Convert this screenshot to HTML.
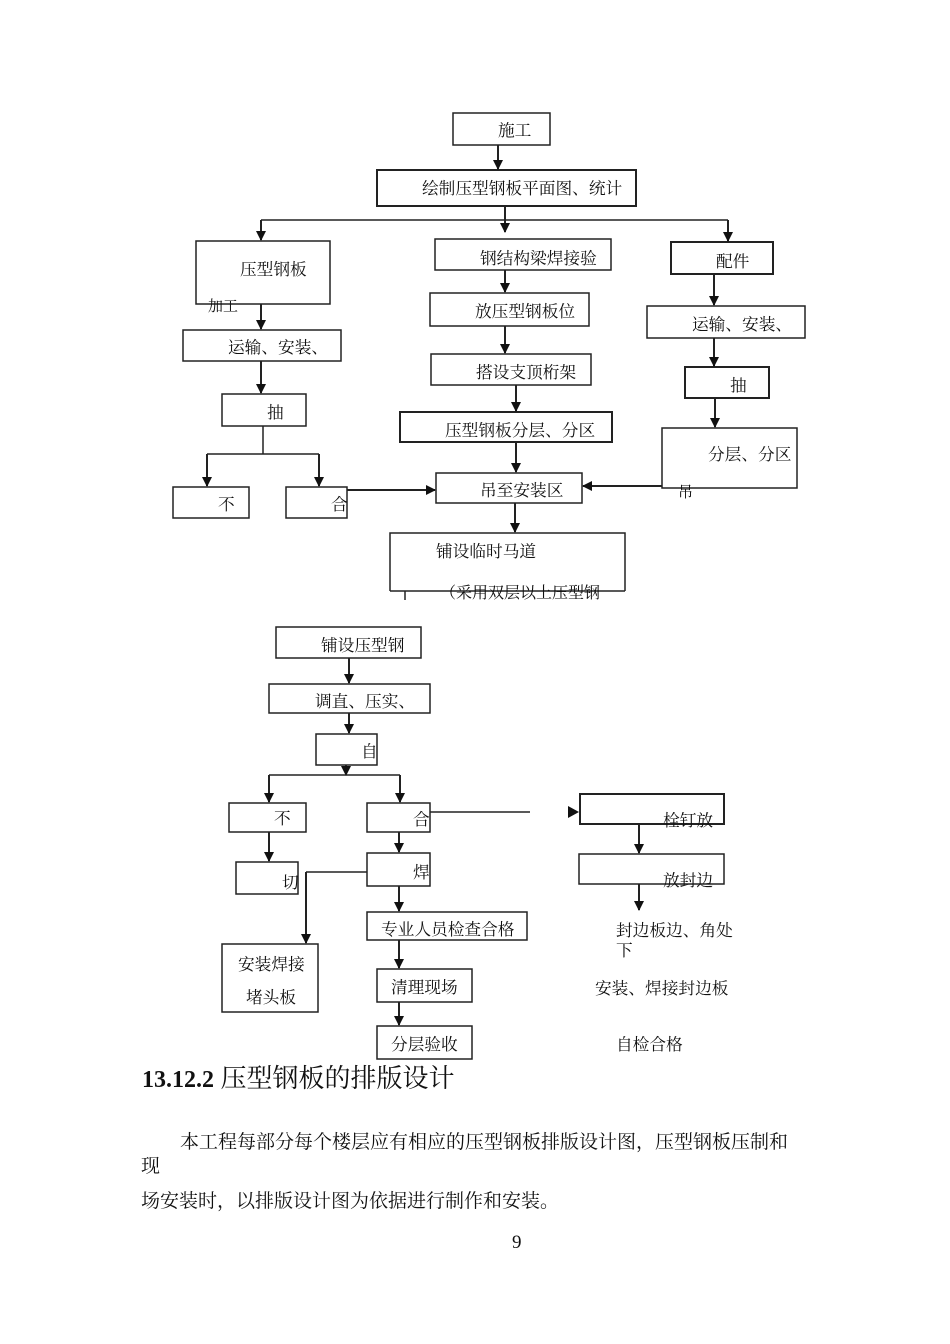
<!DOCTYPE html>
<html><head><meta charset="utf-8"><style>
html,body{margin:0;padding:0;background:#fff;}
svg{display:block;}
text{font-family:"Liberation Serif","Noto Serif CJK SC","Noto Sans CJK SC",serif;fill:#111;}
</style></head><body>
<svg width="950" height="1344" viewBox="0 0 950 1344" xmlns="http://www.w3.org/2000/svg">
<defs><marker id="a" markerWidth="10" markerHeight="10" refX="9" refY="5" orient="auto" markerUnits="userSpaceOnUse"><path d="M0,0 L10,5 L0,10 z" fill="#111"/></marker></defs>
<g fill="none" stroke="#222" stroke-width="1.5">
<rect x="453" y="113" width="97" height="32"/>
<rect x="377" y="170" width="259" height="36" stroke-width="2"/>
<rect x="196" y="241" width="134" height="63"/>
<rect x="435" y="239" width="176" height="31"/>
<rect x="671" y="242" width="102" height="32" stroke-width="2"/>
<rect x="430" y="293" width="159" height="33"/>
<rect x="183" y="330" width="158" height="31"/>
<rect x="647" y="306" width="158" height="32"/>
<rect x="431" y="354" width="160" height="31"/>
<rect x="685" y="367" width="84" height="31" stroke-width="2"/>
<rect x="222" y="394" width="84" height="32"/>
<rect x="400" y="412" width="212" height="30" stroke-width="2"/>
<rect x="662" y="428" width="135" height="60"/>
<rect x="173" y="487" width="76" height="31"/>
<rect x="286" y="487" width="61" height="31"/>
<rect x="436" y="473" width="146" height="30"/>
<path d="M390,591 V533 H625 V591 M390,591 H625"/>
<path d="M405,591 V600"/>
<rect x="276" y="627" width="145" height="31"/>
<rect x="269" y="684" width="161" height="29"/>
<rect x="316" y="734" width="61" height="31"/>
<rect x="229" y="803" width="77" height="29"/>
<rect x="367" y="803" width="63" height="29"/>
<rect x="580" y="794" width="144" height="30" stroke-width="2"/>
<rect x="236" y="862" width="62" height="32"/>
<rect x="367" y="853" width="63" height="33"/>
<rect x="222" y="944" width="96" height="68"/>
<rect x="367" y="912" width="160" height="28"/>
<rect x="377" y="969" width="95" height="33"/>
<rect x="377" y="1026" width="95" height="33"/>
<rect x="579" y="854" width="145" height="30"/>
</g>
<g fill="none" stroke="#222" stroke-width="2" marker-end="url(#a)">
<path d="M498,145 V169"/>
<path d="M505,206 V232"/>
<path d="M261,220 V240"/>
<path d="M728,220 V241"/>
<path d="M505,270 V292"/>
<path d="M261,304 V329"/>
<path d="M714,274 V305"/>
<path d="M505,326 V353"/>
<path d="M261,361 V393"/>
<path d="M714,338 V366"/>
<path d="M516,385 V411"/>
<path d="M715,398 V427"/>
<path d="M516,442 V472"/>
<path d="M207,454 V486"/>
<path d="M319,454 V486"/>
<path d="M347,490 H435"/>
<path d="M662,486 H583"/>
<path d="M515,503 V532"/>
<path d="M349,658 V683"/>
<path d="M349,713 V733"/>
<path d="M346,765 V775"/>
<path d="M269,775 V802"/>
<path d="M400,775 V802"/>
<path d="M269,832 V861"/>
<path d="M399,832 V852"/>
<path d="M306,872 V943"/>
<path d="M399,886 V911"/>
<path d="M399,940 V968"/>
<path d="M399,1002 V1025"/>
<path d="M639,824 V853"/>
<path d="M639,884 V910"/>
</g>
<g fill="none" stroke="#222" stroke-width="1.5">
<path d="M261,220 H728"/>
<path d="M263,426 V454 M207,454 H319"/>
<path d="M269,775 H400"/>
<path d="M430,812 H530"/>
<path d="M367,872 H306"/>
</g>
<path d="M568,806 L579,812 L568,818 z" fill="#111"/>
<g font-size="16.7">
<text x="498" y="136">施工</text>
<text x="422" y="194">绘制压型钢板平面图、统计</text>
<text x="240" y="275">压型钢板</text>
<text x="208" y="311" font-size="15">加工</text>
<text x="480" y="264">钢结构梁焊接验</text>
<text x="716" y="267">配件</text>
<text x="475" y="317">放压型钢板位</text>
<text x="228" y="353">运输、安装、</text>
<text x="692" y="330">运输、安装、</text>
<text x="476" y="378">搭设支顶桁架</text>
<text x="730" y="391">抽</text>
<text x="267" y="418">抽</text>
<text x="445" y="436">压型钢板分层、分区</text>
<text x="708" y="460">分层、分区</text>
<text x="678" y="497" font-size="15">吊</text>
<text x="218" y="510">不</text>
<text x="331" y="510">合</text>
<text x="480" y="496">吊至安装区</text>
<text x="436" y="557">铺设临时马道</text>
<text x="440" y="598" font-size="16">（采用双层以上压型钢</text>
<text x="321" y="651">铺设压型钢</text>
<text x="315" y="707">调直、压实、</text>
<text x="361" y="757">自</text>
<text x="274" y="824">不</text>
<text x="413" y="825">合</text>
<text x="663" y="826">栓钉放</text>
<text x="282" y="888">切</text>
<text x="413" y="878">焊</text>
<text x="238" y="970">安装焊接</text>
<text x="246" y="1003">堵头板</text>
<text x="381" y="935">专业人员检查合格</text>
<text x="391" y="993">清理现场</text>
<text x="391" y="1050">分层验收</text>
<text x="663" y="886">放封边</text>
<text x="616" y="936">封边板边、角处</text>
<text x="616" y="956">下</text>
<text x="595" y="994">安装、焊接封边板</text>
<text x="616" y="1050">自检合格</text>
</g>
<text x="142" y="1087" font-size="26"><tspan font-weight="bold" font-size="24">13.12.2</tspan> 压型钢板的排版设计</text>
<g font-size="19">
<text x="180" y="1148">本工程每部分每个楼层应有相应的压型钢板排版设计图，压型钢板压制和</text>
<text x="141" y="1172">现</text>
<text x="141" y="1207">场安装时，以排版设计图为依据进行制作和安装。</text>
<text x="512" y="1248">9</text>
</g>
</svg>
</body></html>
